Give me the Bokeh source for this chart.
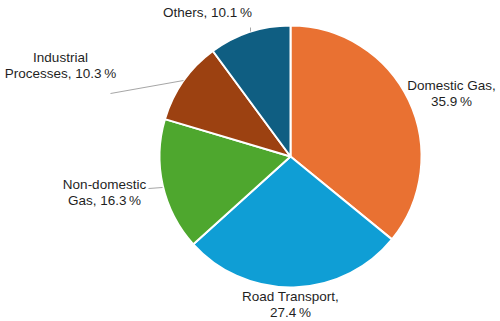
import math
from bokeh.plotting import figure
from bokeh.models import Range1d, ColumnDataSource
from bokeh.core.properties import value
from bokeh.embed import file_html
from bokeh.resources import INLINE

categories = ["Domestic Gas", "Road Transport", "Non-domestic Gas", "Industrial Processes", "Others"]
shares = [35.9, 27.4, 16.3, 10.3, 10.1]
colors = ["#E97132", "#0F9ED5", "#4EA72E", "#9C4111", "#0F5E82"]
label_texts = ["Domestic Gas,\n35.9\u202f%", "Road Transport,\n27.4\u202f%", "Non-domestic\nGas, 16.3\u202f%",
               "Industrial\nProcesses, 10.3\u202f%", "Others, 10.1\u202f%"]

W, H = 500, 321
CX, CY, R = 290, 156, 131
# label block centres in pixel coords (x, y from top)
label_pos = [(451, 93), (290, 304), (104, 192), (60, 65), (207, 12)]
leaders = [None, None, [(148, 188), (162, 187)], [(110, 93), (183, 80)], [(250, 27), (250, 31)]]

p = figure(width=W, height=H, output_backend="svg", toolbar_location=None,
           x_range=Range1d(0, W), y_range=Range1d(0, H), min_border=0)
p.axis.visible = False
p.grid.visible = False
p.outline_line_color = None
p.background_fill_color = "white"

total = sum(shares)
starts, ends = [], []
cum = 0.0
for s in shares:
    a0 = math.pi / 2 - 2 * math.pi * (cum + s) / total
    a1 = math.pi / 2 - 2 * math.pi * cum / total
    starts.append(a0)
    ends.append(a1)
    cum += s

src = ColumnDataSource(dict(start=starts, end=ends, color=colors, cat=categories))
p.wedge(x=CX, y=H - CY, radius=R, radius_units="screen", start_angle="start", end_angle="end",
        fill_color="color", line_color="white", line_width=2, source=src)

for seg in leaders:
    if seg:
        p.line([seg[0][0], seg[1][0]], [H - seg[0][1], H - seg[1][1]], line_color="#A6A6A6", line_width=1)

lsrc = ColumnDataSource(dict(x=[lp[0] for lp in label_pos], y=[H - lp[1] for lp in label_pos], t=label_texts))
p.text(x="x", y="y", text="t", source=lsrc, text_font=value("Liberation Sans"), text_font_size="13.5px",
       text_color="#1F1F1F", text_align="center", text_baseline="middle", text_line_height=1.1)

open("out.html", "w").write(file_html(p, INLINE))
